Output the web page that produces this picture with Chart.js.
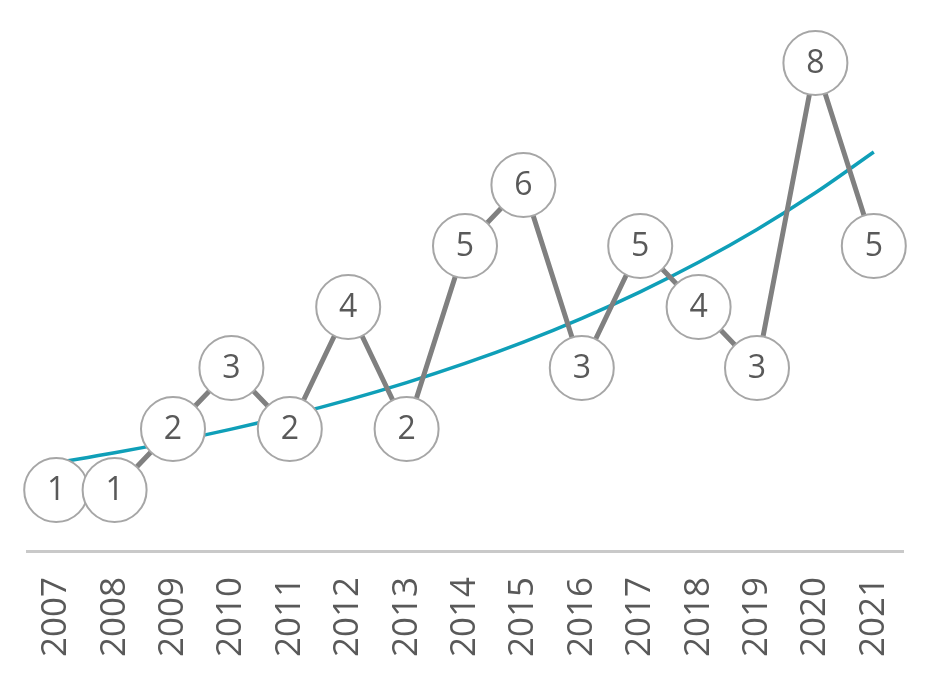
<!DOCTYPE html>
<html>
<head>
<meta charset="utf-8">
<script src="https://cdn.jsdelivr.net/npm/chart.js@4/dist/chart.umd.min.js"></script>
<style>
  html, body { margin: 0; padding: 0; background: #ffffff; }
  #wrap { width: 941px; height: 698px; position: relative; }
</style>
</head>
<body>
<div id="wrap"><canvas id="c"></canvas></div>
<script>
const years = ['2007','2008','2009','2010','2011','2012','2013','2014','2015','2016','2017','2018','2019','2020','2021'];
const counts = [1, 1, 2, 3, 2, 4, 2, 5, 6, 3, 5, 4, 3, 8, 5];

// Exponential trendline (least squares on ln y), as a spreadsheet would compute it
function expTrend(vals) {
  const n = vals.length;
  const xs = vals.map((_, i) => i);
  const ly = vals.map(v => Math.log(v));
  const mx = xs.reduce((a, b) => a + b, 0) / n;
  const my = ly.reduce((a, b) => a + b, 0) / n;
  let sxy = 0, sxx = 0;
  for (let i = 0; i < n; i++) { sxy += (xs[i] - mx) * (ly[i] - my); sxx += (xs[i] - mx) ** 2; }
  const b = sxy / sxx;
  const a = Math.exp(my - b * mx);
  return xs.map(x => a * Math.exp(b * x));
}
const trend = expTrend(counts);

const FONT = '"Open Sans", "Lato", sans-serif';

const labelPlugin = {
  id: 'circleLabels',
  afterDatasetsDraw(chart) {
    const meta = chart.getDatasetMeta(0);
    const ctx = chart.ctx;
    ctx.save();
    ctx.fillStyle = '#595959';
    ctx.font = '32px ' + FONT;
    ctx.textAlign = 'center';
    ctx.textBaseline = 'middle';
    meta.data.forEach((pt, i) => {
      ctx.fillText(String(counts[i]), pt.x, pt.y + 1);
    });
    ctx.restore();
  }
};

new Chart(document.getElementById('c'), {
  type: 'line',
  data: {
    labels: years,
    datasets: [
      {
        label: 'Count',
        data: counts,
        borderColor: '#808080',
        borderWidth: 5,
        pointRadius: 32,
        pointHoverRadius: 32,
        pointBackgroundColor: '#ffffff',
        pointBorderColor: '#a6a6a6',
        pointBorderWidth: 2,
        tension: 0,
        clip: false,
        order: 0
      },
      {
        label: 'Trend',
        data: trend,
        borderColor: '#0f9fb8',
        borderWidth: 3.5,
        pointRadius: 0,
        tension: 0.4,
        cubicInterpolationMode: 'monotone',
        clip: false,
        order: 1
      }
    ]
  },
  options: {
    responsive: true,
    maintainAspectRatio: false,
    animation: false,
    events: [],
    layout: { autoPadding: false, padding: { top: 63, left: 27, right: 38, bottom: 0 } },
    plugins: {
      legend: { display: false },
      tooltip: { enabled: false }
    },
    scales: {
      x: {
        type: 'category',
        offset: true,
        grid: { display: false, drawTicks: false },
        border: { display: true, color: '#c9c9c9', width: 3 },
        ticks: {
          color: '#595959',
          font: { family: FONT, size: 35 },
          minRotation: 90,
          maxRotation: 90,
          padding: 26,
          autoSkip: false
        },
        afterFit(scale) { scale.height = 147; scale.paddingLeft = 0; scale.paddingRight = 0; }
      },
      y: {
        display: false,
        min: 0,
        max: 8
      }
    }
  },
  plugins: [labelPlugin]
});
</script>
</body>
</html>
